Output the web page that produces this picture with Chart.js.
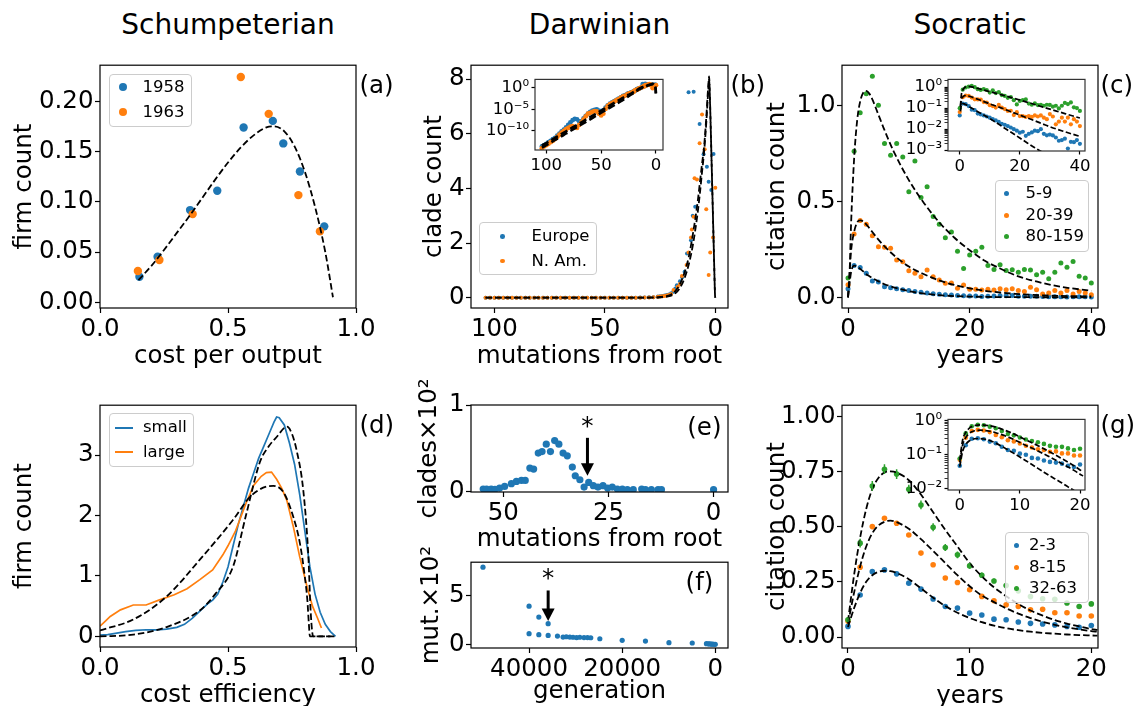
<!DOCTYPE html>
<html><head><meta charset="utf-8">
<script src="https://cdn.jsdelivr.net/npm/chart.js@4.4.1/dist/chart.umd.min.js"></script>
<style>
html,body{margin:0;padding:0;background:#fff;}
body{position:relative;width:1135px;height:706px;overflow:hidden;font-family:'DejaVu Sans',sans-serif;color:#000;}
.t{position:absolute;white-space:nowrap;line-height:1;color:#000;}
.leg{position:absolute;box-sizing:border-box;border:1px solid #cccccc;border-radius:4px;background:rgba(255,255,255,0.8);}
.dot{position:absolute;border-radius:50%;}
.ln{position:absolute;height:2px;}
</style></head><body>
<script>
// ---------------- DATA ----------------
const COLUMN_TITLES = ['Schumpeterian', 'Darwinian', 'Socratic'];
const PANEL_LABELS = ['(a)', '(b)', '(c)', '(d)', '(e)', '(f)', '(g)'];

// (a)
const A_LEGEND = ['1958', '1963'];
const A58_X = [0.154, 0.225, 0.352, 0.458, 0.561, 0.675, 0.716, 0.781, 0.876];
const A58_Y = [0.0254, 0.0453, 0.0917, 0.1109, 0.1739, 0.1804, 0.158, 0.130, 0.0755];
const A63_X = [0.148, 0.232, 0.362, 0.55, 0.659, 0.775, 0.859];
const A63_Y = [0.0311, 0.042, 0.0877, 0.2241, 0.1874, 0.1066, 0.0705];
const A_FIT_X = [0.15, 0.2, 0.25, 0.3, 0.35, 0.4, 0.45, 0.5, 0.55, 0.6, 0.65, 0.68, 0.72, 0.76, 0.8, 0.84, 0.88, 0.91];
const A_FIT_Y = [0.022, 0.036, 0.052, 0.069, 0.086, 0.104, 0.122, 0.139, 0.154, 0.166, 0.174, 0.175, 0.17, 0.155, 0.13, 0.095, 0.05, 0.005];
const A_XTICKS = [0, 0.5, 1.0], A_XLABELS = ['0.0', '0.5', '1.0'];
const A_YTICKS = [0, 0.05, 0.10, 0.15, 0.20], A_YLABELS = ['0.00', '0.05', '0.10', '0.15', '0.20'];

// (b)
const B_LEGEND = ['Europe', 'N. Am.'];
const B_EU_X = [104,102,100,98,96,94,92,90,88,86,84,82,80,78,76,74,72,70,68,66,64,62,60,58,56,54,52,50,48,46,44,42,40,38,36,34,32,30,28,26,
  25,24,23,22,21,20,19,18.1,17.4,16,15,13.9,12.8,12.1,11,10.2,9.8,9.1,7.1,5.3,3.8,3.0,1.8,0.8];
const B_EU_Y = [2.5e-14,5e-14,1e-13,2.5e-13,5e-13,1.3e-12,2.5e-12,8e-12,2.5e-11,8e-11,2e-10,6.3e-10,2.5e-9,1e-8,3.2e-8,6.3e-8,5e-8,1.6e-8,1.6e-8,8e-8,3.2e-7,1e-6,2.5e-6,5e-6,8e-6,1e-5,5e-6,3.2e-6,6.3e-6,2.5e-5,8e-5,2e-4,4e-4,8e-4,1.6e-3,3.2e-3,6.3e-3,1.3e-2,2e-2,4e-2,
  0.05,0.06,0.08,0.1,0.12,0.16,0.22,0.34,0.46,0.6,0.75,0.95,1.62,7.52,2.1,3.0,7.54,3.33,6.36,5.25,4.79,4.24,3.94,5.26];
const B_NA_X = [104,102,100,98,96,94,92,90,88,86,84,82,80,78,76,74,72,70,68,66,64,62,60,58,56,54,52,50,48,46,44,42,40,38,36,34,32,30,28,26,
  25,24,23,22,21,20,18.9,17,16,15.1,13,12.1,11,10.6,9.8,9.4,8.3,7.1,6.0,4.8,4.1,3.0,2.3,1.0,0];
const B_NA_Y = [1e-14,2.5e-14,5e-14,1e-13,2.5e-13,5e-13,1.3e-12,4e-12,1.3e-11,4e-11,1e-10,2.5e-10,5e-10,1e-9,1.3e-9,8e-10,5e-10,2.5e-9,1e-8,5e-8,2.5e-7,1e-6,1.6e-6,2.5e-6,4e-6,3.2e-6,1e-6,4e-7,1e-6,1.3e-5,6.3e-5,1.6e-4,3.2e-4,6.3e-4,1.3e-3,2.5e-3,5e-3,1e-2,1.6e-2,3.2e-2,
  0.04,0.05,0.06,0.08,0.1,0.14,0.28,0.4,0.5,0.79,1.2,1.65,2.2,2.5,2.96,4.37,4.33,5.65,6.71,5.43,3.24,0.83,1.65,2.2,4.02];
const B_FIT_X = [104,100,96,92,88,84,80,76,72,68,64,60,56,52,48,44,40,36,32,28,25,22,20,18,16,14,12,10,8,7,6,5,4,3.4,3.0,2.8,2.5,2,1.5,1,0.5,0.25,0.1,0];
const B_FIT1 = [4e-14,1.6e-13,6.3e-13,2.5e-12,1e-11,4e-11,1.6e-10,6.3e-10,2.5e-9,1e-8,4e-8,1.6e-7,6.3e-7,2.5e-6,1e-5,4e-5,1.6e-4,6.3e-4,2.5e-3,1e-2,0.025,0.06,0.12,0.25,0.5,0.9,1.5,2.4,3.5,4.2,4.9,5.6,6.7,7.5,7.95,8.1,7.5,6.0,4.4,2.8,1.2,0.4,0.05,0];
const B_FIT2 = [1.3e-14,5e-14,2e-13,8e-13,3.2e-12,1.3e-11,5e-11,2e-10,8e-10,3.2e-9,1.3e-8,5e-8,2e-7,8e-7,3.2e-6,1.3e-5,5e-5,2e-4,8e-4,3.2e-3,0.012,0.035,0.075,0.17,0.36,0.7,1.22,2.0,3.1,3.8,4.6,5.4,6.5,7.3,7.8,8.0,7.45,6.0,4.4,2.8,1.2,0.4,0.05,0];
const B_XTICKS = [100, 50, 0], B_XLABELS = ['100', '50', '0'];
const B_YTICKS = [0, 2, 4, 6, 8], B_YLABELS = ['0', '2', '4', '6', '8'];
const BI_YTICKS = [1, 1e-5, 1e-10], BI_YLABELS = ['10\u2070', '10\u207B\u2075', '10\u207B\u00B9\u2070'];

// (c)
const C_LEGEND = ['5-9', '20-39', '80-159'];
const C_YEARS = [0,1,2,3,4,5,6,7,8,9,10,11,12,13,14,15,16,17,18,19,20,21,22,23,24,25,26,27,28,29,30,31,32,33,34,35,36,37,38,39,40];
const C_BLUE = [0.045,0.165,0.155,0.125,0.085,0.08,0.055,0.05,0.045,0.04,0.035,0.03,0.026,0.022,0.018,0.016,0.014,0.012,0.01,0.0085,0.0068,0.0075,0.0048,0.006,0.007,0.0085,0.008,0.01,0.006,0.0051,0.0055,0.005,0.004,0.0028,0.003,0.0035,0.0012,0.0025,0.0024,0.003,0.002];
const C_ORANGE = [0.065,0.33,0.40,0.38,0.32,0.263,0.26,0.255,0.194,0.185,0.138,0.125,0.107,0.142,0.107,0.09,0.073,0.075,0.047,0.064,0.042,0.042,0.038,0.042,0.038,0.045,0.04,0.045,0.035,0.03,0.052,0.04,0.017,0.023,0.035,0.023,0.035,0.017,0.03,0.023,0.014];
const C_GREEN = [0.10,0.76,0.96,1.06,1.15,1.00,0.80,0.74,0.80,0.73,0.55,0.71,0.52,0.575,0.42,0.38,0.31,0.34,0.24,0.15,0.22,0.24,0.26,0.165,0.145,0.17,0.14,0.144,0.13,0.145,0.142,0.118,0.13,0.097,0.13,0.178,0.156,0.187,0.109,0.101,0.074];
const C_FIT_T = [0,0.25,0.5,1,1.5,2,2.5,3,3.5,4,5,6,7.5,10,12.5,15,17.5,20,22.5,25,27.5,30,35,40];
const C_FIT_GREEN = [0,0.12,0.38,0.72,0.92,1.02,1.065,1.074,1.06,1.03,0.95,0.87,0.76,0.61,0.49,0.39,0.31,0.245,0.19,0.15,0.115,0.09,0.055,0.034];
const C_FIT_ORANGE = [0,0.12,0.24,0.34,0.39,0.40,0.395,0.38,0.36,0.34,0.3,0.265,0.22,0.16,0.12,0.088,0.064,0.047,0.034,0.025,0.018,0.013,0.0075,0.0045];
const C_FIT_BLUE = [0,0.07,0.13,0.165,0.16,0.148,0.135,0.12,0.11,0.1,0.083,0.068,0.052,0.032,0.019,0.011,0.0065,0.0038,0.0022,0.0013,0.0008,0.00047,0.00017,0.00006];
const C_XTICKS = [0, 20, 40], C_XLABELS = ['0', '20', '40'];
const C_YTICKS = [0, 0.5, 1.0], C_YLABELS = ['0.0', '0.5', '1.0'];
const CI_MAJOR = [1e-3, 1e-2, 1e-1, 1], CI_LABELS = ['10\u207B\u00B3', '10\u207B\u00B2', '10\u207B\u00B9', '10\u2070'];

// (d)
const D_LEGEND = ['small', 'large'];
const D_SMALL_X = [0,0.03,0.06,0.1,0.14,0.18,0.22,0.26,0.3,0.33,0.36,0.39,0.42,0.44,0.46,0.48,0.5,0.52,0.54,0.56,0.58,0.6,0.62,0.64,0.66,0.68,0.69,0.7,0.72,0.74,0.76,0.78,0.8,0.82,0.84,0.86,0.88,0.9,0.92];
const D_SMALL_Y = [0.02,0.03,0.05,0.08,0.1,0.11,0.11,0.12,0.15,0.2,0.3,0.42,0.54,0.6,0.7,0.9,1.15,1.5,1.85,2.15,2.45,2.7,2.95,3.15,3.35,3.55,3.63,3.62,3.5,3.2,2.85,2.35,1.75,1.15,0.7,0.4,0.2,0.08,0.0];
const D_LARGE_X = [0,0.02,0.04,0.08,0.13,0.18,0.23,0.29,0.34,0.39,0.44,0.48,0.5,0.53,0.57,0.6,0.63,0.65,0.67,0.69,0.71,0.73,0.755,0.78,0.81,0.83,0.85,0.865];
const D_LARGE_Y = [0.17,0.25,0.33,0.44,0.52,0.52,0.6,0.69,0.79,0.94,1.1,1.35,1.5,1.75,2.2,2.5,2.65,2.71,2.72,2.6,2.45,2.25,1.82,1.32,0.8,0.5,0.3,0.14];
const D_FIT1_X = [0,0.13,0.26,0.39,0.45,0.52,0.57,0.625,0.66,0.69,0.73,0.75,0.768,0.794,0.814,0.823,0.833,0.92];
const D_FIT1_Y = [0.0,0.03,0.155,0.43,0.7,1.16,2.0,2.89,3.15,3.3,3.47,3.35,3.08,2.42,1.32,0.4,0.0,0.0];
const D_FIT2_X = [0,0.13,0.26,0.39,0.52,0.586,0.651,0.677,0.716,0.755,0.781,0.8,0.81,0.816,0.82,0.9];
const D_FIT2_Y = [0.1,0.28,0.66,1.27,1.93,2.31,2.48,2.49,2.39,1.98,1.54,0.99,0.6,0.2,0.0,0.0];
const D_XTICKS = [0, 0.5, 1.0], D_XLABELS = ['0.0', '0.5', '1.0'];
const D_YTICKS = [0, 1, 2, 3], D_YLABELS = ['0', '1', '2', '3'];

// (e)
const E_X = [54.8,54,52.9,52,50.9,49.7,48.1,46.9,45.7,44.8,43.7,42.8,41.7,40.8,39.8,38.8,37.8,36.8,35.8,34.8,33.6,32.9,31.8,30.8,29.7,28.6,27.5,26.3,25.2,24.1,22.9,21.7,20.5,19.1,17.1,16.2,14.8,13.2,12.4,0];
const E_Y = [0.028,0.028,0.028,0.025,0.039,0.058,0.089,0.115,0.127,0.127,0.27,0.258,0.443,0.461,0.547,0.461,0.588,0.547,0.443,0.412,0.281,0.181,0.135,0.05,0.104,0.066,0.05,0.066,0.039,0.05,0.028,0.028,0.02,0.02,0.028,0.02,0.02,0.02,0.02,0.02];
const E_MARK = {x: 30, from: 0.62, to: 0.18, star: 0.83};
const E_XTICKS = [50, 25, 0], E_XLABELS = ['50', '25', '0'];
const E_YTICKS = [0, 1], E_YLABELS = ['0', '1'];

// (f)
const F_X = [49900,40000,37900,35900,40000,37900,35900,33900,32700,32000,31250,30550,29800,29100,28200,27450,26750,24800,20000,15000,9950,4950,1900,1500,1200,900,600,300,0];
const F_Y = [7.86,3.91,2.80,2.13,1.11,1.01,0.94,0.87,0.77,0.8,0.77,0.75,0.72,0.75,0.72,0.72,0.7,0.6,0.44,0.36,0.2,0.17,0.1,0.08,0.07,0.06,0.05,0.04,0.03];
const F_MARK = {x: 35900, from: 5.5, to: 2.4, star: 7.36};
const F_XTICKS = [40000, 20000, 0], F_XLABELS = ['40000', '20000', '0'];
const F_YTICKS = [0, 5], F_YLABELS = ['0', '5'];

// (g)
const G_LEGEND = ['2-3', '8-15', '32-63'];
const G_YEARS = [0,1,2,3,4,5,6,7,8,9,10,11,12,13,14,15,16,17,18,19,20];
const G_BLUE = [0.048,0.19,0.296,0.304,0.286,0.244,0.217,0.172,0.138,0.131,0.108,0.1,0.081,0.078,0.068,0.062,0.059,0.055,0.048,0.044,0.052];
const G_ORANGE = [0.072,0.316,0.5,0.538,0.515,0.462,0.38,0.327,0.267,0.247,0.214,0.184,0.164,0.146,0.138,0.123,0.126,0.11,0.11,0.095,0.095];
const G_GREEN = [0.078,0.425,0.684,0.76,0.738,0.669,0.598,0.497,0.405,0.372,0.322,0.28,0.254,0.233,0.209,0.183,0.173,0.171,0.154,0.138,0.15];
const G_GREEN_ERR = [0.01,0.02,0.022,0.022,0.022,0.02,0.02,0.018,0.016,0.015,0.013,0.012,0.011,0.01,0.01,0.009,0.009,0.009,0.008,0.008,0.008];
const G_FIT_T = [0,0.5,1,1.5,2,2.5,3,3.5,4,5,6,7,8,9,10,11,12,13,14,15,16,17,18,19,20,20.5];
const G_FIT_GREEN = [0.07,0.28,0.45,0.58,0.67,0.72,0.745,0.75,0.745,0.71,0.645,0.565,0.485,0.41,0.335,0.275,0.225,0.185,0.15,0.12,0.097,0.077,0.061,0.048,0.036,0.032];
const G_FIT_ORANGE = [0.06,0.2,0.32,0.41,0.47,0.505,0.522,0.527,0.52,0.49,0.443,0.39,0.335,0.28,0.23,0.188,0.158,0.13,0.106,0.086,0.069,0.055,0.044,0.035,0.027,0.024];
const G_FIT_BLUE = [0.045,0.13,0.2,0.25,0.28,0.295,0.3,0.298,0.29,0.262,0.22,0.178,0.14,0.11,0.086,0.067,0.052,0.04,0.031,0.024,0.019,0.015,0.0115,0.009,0.007,0.006];
const G_XTICKS = [0, 10, 20], G_XLABELS = ['0', '10', '20'];
const G_YTICKS = [0, 0.25, 0.5, 0.75, 1.0], G_YLABELS = ['0.00', '0.25', '0.50', '0.75', '1.00'];
const GI_MAJOR = [1e-2, 1e-1, 1], GI_LABELS = ['10\u207B\u00B2', '10\u207B\u00B9', '10\u2070'];

// ---------------- STYLE / HELPERS ----------------
const BLUE = '#1f77b4', ORANGE = '#ff7f0e', GREEN = '#2ca02c';
const FONT = "'DejaVu Sans'";
const FS = 24.5, IFS = 16.5;
Chart.defaults.font.family = FONT;
Chart.defaults.color = '#000';

const pts = (xs, ys) => xs.map((x, i) => ({x: x, y: ys[i]}));
const dots = (xs, ys, color, r) => ({data: pts(xs, ys), showLine: false, pointRadius: r, pointHoverRadius: r,
  pointBackgroundColor: color, pointBorderColor: color, pointBorderWidth: 0, clip: 0});
const dashed = (xs, ys, w, dash) => ({data: pts(xs, ys), showLine: true, borderColor: '#000', borderWidth: w,
  borderDash: dash, pointRadius: 0, pointHoverRadius: 0, cubicInterpolationMode: 'monotone', clip: 0, fill: false});
const solid = (xs, ys, color, w) => ({data: pts(xs, ys), showLine: true, borderColor: color, borderWidth: w,
  pointRadius: 0, pointHoverRadius: 0, tension: 0, clip: 0, fill: false});
const lab = (ticks, labels) => v => { const i = ticks.indexOf(v); return i < 0 ? '' : labels[i]; };

function scale(o) {
  return {
    type: o.type || 'linear', position: o.pos, min: o.min, max: o.max, reverse: !!o.reverse,
    afterBuildTicks: s => { s.ticks = o.ticks.map(v => ({value: v})); },
    afterFit: s => { if (o.pos === 'left') s.width = o.size; else s.height = o.size; },
    ticks: {autoSkip: false, maxRotation: 0, minRotation: 0, padding: o.pad, color: '#000',
      font: {family: FONT, size: o.fs}, callback: v => o.fmt(v)},
    grid: {display: true, drawOnChartArea: false, drawTicks: true, tickLength: o.tl, tickColor: '#000', tickWidth: o.tw || 1.2},
    border: {display: false},
    title: o.title ? {display: true, text: o.title, padding: 0, color: '#000', font: {family: FONT, size: o.fs}} : {display: false}
  };
}
function mainX(min, max, ticks, labels, title, H, reverse) {
  return scale({pos: 'bottom', min, max, reverse, ticks, fmt: lab(ticks, labels), title, size: H, fs: FS, tl: 5, pad: 1.5});
}
function mainY(min, max, ticks, labels, title, W) {
  return scale({pos: 'left', min, max, ticks, fmt: lab(ticks, labels), title, size: W, fs: FS, tl: 5, pad: 1.5});
}
function logTicks(majors, min, max) {
  const out = [];
  majors.forEach(m => { out.push(m); for (let k = 2; k <= 9; k++) { const v = k * m; if (v >= min && v <= max) out.push(v); } });
  return out;
}

function framePlugin(bg, color) {
  return {
    id: 'frame',
    beforeDatasetsDraw(chart) {
      if (!bg) return;
      const {ctx, chartArea: c} = chart;
      ctx.save(); ctx.fillStyle = bg; ctx.fillRect(c.left, c.top, c.right - c.left, c.bottom - c.top); ctx.restore();
    },
    afterDatasetsDraw(chart) {
      const {ctx, chartArea: c} = chart;
      ctx.save(); ctx.strokeStyle = color || '#000'; ctx.lineWidth = 1.2;
      ctx.strokeRect(c.left, c.top, c.right - c.left, c.bottom - c.top); ctx.restore();
    }
  };
}
function arrowPlugin(m) {
  return {
    id: 'arrow',
    afterDatasetsDraw(chart) {
      const {ctx, scales: {x, y}} = chart;
      const px = x.getPixelForValue(m.x), y0 = y.getPixelForValue(m.from), y1 = y.getPixelForValue(m.to), ys = y.getPixelForValue(m.star);
      ctx.save(); ctx.fillStyle = '#000'; ctx.strokeStyle = '#000'; ctx.lineWidth = 3;
      ctx.beginPath(); ctx.moveTo(px, y0); ctx.lineTo(px, y1 - 10); ctx.stroke();
      ctx.beginPath(); ctx.moveTo(px - 6.5, y1 - 12.5); ctx.lineTo(px + 6.5, y1 - 12.5); ctx.lineTo(px, y1); ctx.closePath(); ctx.fill();
      ctx.font = FS + 'px ' + FONT; ctx.textAlign = 'center'; ctx.textBaseline = 'alphabetic';
      ctx.fillText('*', px, ys + 0.585 * FS);
      ctx.restore();
    }
  };
}
function errPlugin(xs, ys, errs, color) {
  return {
    id: 'errbars',
    afterDatasetsDraw(chart) {
      const {ctx, scales: {x, y}} = chart;
      ctx.save(); ctx.strokeStyle = color; ctx.lineWidth = 1.5; ctx.beginPath();
      xs.forEach((v, i) => { const px = x.getPixelForValue(v); ctx.moveTo(px, y.getPixelForValue(ys[i] - errs[i])); ctx.lineTo(px, y.getPixelForValue(ys[i] + errs[i])); });
      ctx.stroke(); ctx.restore();
    }
  };
}

function makeChart(box, W, H, pad, datasets, xs, ys, plugins) {
  const [pl, pt, pr, pb] = pad;
  const left = box.l - W - pl, top = box.t - pt;
  const w = box.r - left + pr, h = box.b + H + pb - top;
  const cv = document.createElement('canvas');
  cv.width = w; cv.height = h;
  cv.style.cssText = 'position:absolute;left:' + left + 'px;top:' + top + 'px;width:' + w + 'px;height:' + h + 'px';
  document.body.appendChild(cv);
  return new Chart(cv, {
    type: 'scatter', data: {datasets},
    options: {
      responsive: false, maintainAspectRatio: false, animation: false, devicePixelRatio: 1, events: [],
      layout: {padding: {left: pl, top: pt, right: pr, bottom: pb}},
      plugins: {legend: {display: false}, tooltip: {enabled: false}, title: {display: false}},
      scales: {x: xs, y: ys}
    },
    plugins: plugins
  });
}

function text(str, x, baseline, size, center) {
  const d = document.createElement('div'); d.className = 't'; d.textContent = str;
  d.style.fontSize = size + 'px'; d.style.top = (baseline - 0.846 * size) + 'px';
  if (center) { d.style.left = (x - 300) + 'px'; d.style.width = '600px'; d.style.textAlign = 'center'; }
  else d.style.left = x + 'px';
  document.body.appendChild(d);
}
function legend(box, rows) {
  const d = document.createElement('div'); d.className = 'leg';
  d.style.left = box.l + 'px'; d.style.top = box.t + 'px'; d.style.width = box.w + 'px'; d.style.height = box.h + 'px';
  document.body.appendChild(d);
  rows.forEach(r => {
    const m = document.createElement('div');
    if (r.kind === 'line') {
      m.className = 'ln'; m.style.left = r.mx + 'px'; m.style.width = r.len + 'px'; m.style.top = (r.y - 1) + 'px'; m.style.background = r.color;
    } else {
      m.className = 'dot'; m.style.left = (r.mx - r.r) + 'px'; m.style.top = (r.y - r.r) + 'px';
      m.style.width = (2 * r.r) + 'px'; m.style.height = (2 * r.r) + 'px'; m.style.background = r.color;
    }
    document.body.appendChild(m);
    text(r.label, r.tx, r.y + 5.5, 16.5);
  });
}

const MPAD = [4, 16, 24, 4];
const EPAD = [4, 40, 24, 4];
const IPAD = [4, 10, 16, 4];
const IW = 56, IH = 30;

// ---------------- (a) ----------------
makeChart({l: 100, t: 65, r: 356, b: 308}, 90, 63, MPAD,
  [dashed(A_FIT_X, A_FIT_Y, 1.8, [6.5, 3]), dots(A63_X, A63_Y, ORANGE, 4.2), dots(A58_X, A58_Y, BLUE, 4.2)],
  mainX(0, 1, A_XTICKS, A_XLABELS, 'cost per output', 63),
  mainY(-0.0057, 0.2358, A_YTICKS, A_YLABELS, 'firm count', 90),
  [framePlugin()]);

// ---------------- (b) ----------------
makeChart({l: 471, t: 65, r: 728, b: 308}, 51, 63, MPAD,
  [dashed(B_FIT_X, B_FIT1, 1.8, [6.5, 3]), dashed(B_FIT_X, B_FIT2, 1.8, [6.5, 3]),
   dots(B_NA_X, B_NA_Y, ORANGE, 2), dots(B_EU_X, B_EU_Y, BLUE, 2)],
  mainX(-5.75, 110.6, B_XTICKS, B_XLABELS, 'mutations from root', 63, true),
  mainY(-0.377, 8.51, B_YTICKS, B_YLABELS, 'clade count', 51),
  [framePlugin()]);

// ---------------- (c) ----------------
makeChart({l: 842, t: 65, r: 1098, b: 308}, 79, 63, MPAD,
  [dashed(C_FIT_T, C_FIT_BLUE, 1.8, [6.5, 3]), dashed(C_FIT_T, C_FIT_ORANGE, 1.8, [6.5, 3]), dashed(C_FIT_T, C_FIT_GREEN, 1.8, [6.5, 3]),
   dots(C_YEARS, C_GREEN, GREEN, 2.5), dots(C_YEARS, C_ORANGE, ORANGE, 2.5), dots(C_YEARS, C_BLUE, BLUE, 2.5)],
  mainX(-0.99, 41.1, C_XTICKS, C_XLABELS, 'years', 63),
  mainY(-0.0556, 1.208, C_YTICKS, C_YLABELS, 'citation count', 79),
  [framePlugin()]);

// ---------------- (d) ----------------
makeChart({l: 100, t: 405, r: 356, b: 647}, 90, 63, MPAD,
  [dashed(D_FIT1_X, D_FIT1_Y, 1.8, [6.5, 3]), dashed(D_FIT2_X, D_FIT2_Y, 1.8, [6.5, 3]),
   solid(D_LARGE_X, D_LARGE_Y, ORANGE, 1.7), solid(D_SMALL_X, D_SMALL_Y, BLUE, 1.7)],
  mainX(0, 1, D_XTICKS, D_XLABELS, 'cost efficiency', 63),
  mainY(-0.175, 3.826, D_YTICKS, D_YLABELS, 'firm count', 90),
  [framePlugin()]);

// ---------------- (e) ----------------
makeChart({l: 471, t: 405, r: 728, b: 492}, 56, 62, EPAD,
  [dots(E_X, E_Y, BLUE, 3.6)],
  mainX(-3.43, 57.7, E_XTICKS, E_XLABELS, 'mutations from root', 62, true),
  mainY(-0.007, 1, E_YTICKS, E_YLABELS, 'clades\u00D710\u00B2', 56),
  [framePlugin(), arrowPlugin(E_MARK)]);

// ---------------- (f) ----------------
makeChart({l: 471, t: 562, r: 728, b: 648}, 54, 58, MPAD,
  [dots(F_X, F_Y, BLUE, 2.6)],
  mainX(-2731, 52473, F_XTICKS, F_XLABELS, 'generation', 58, true),
  mainY(-0.34, 8.37, F_YTICKS, F_YLABELS, 'mut.\u00D710\u00B2', 54),
  [framePlugin(), arrowPlugin(F_MARK)]);

// ---------------- (g) ----------------
makeChart({l: 842, t: 405, r: 1098, b: 648}, 79, 63, MPAD,
  [dashed(G_FIT_T, G_FIT_BLUE, 1.8, [6.5, 3]), dashed(G_FIT_T, G_FIT_ORANGE, 1.8, [6.5, 3]), dashed(G_FIT_T, G_FIT_GREEN, 1.8, [6.5, 3]),
   dots(G_YEARS, G_GREEN, GREEN, 2.8), dots(G_YEARS, G_ORANGE, ORANGE, 2.8), dots(G_YEARS, G_BLUE, BLUE, 2.8)],
  mainX(-0.49, 20.55, G_XTICKS, G_XLABELS, 'years', 63),
  mainY(-0.0497, 1.0497, G_YTICKS, G_YLABELS, 'citation count', 79),
  [framePlugin(), errPlugin(G_YEARS, G_GREEN, G_GREEN_ERR, GREEN)]);

// ---------------- insets ----------------
const insetX = (min, max, ticks, labels, reverse) =>
  scale({pos: 'bottom', min, max, reverse, ticks, fmt: lab(ticks, labels), size: IH, fs: IFS, tl: 3.5, pad: 2});
const insetLogY = (min, max, majors, labels, minor) => {
  const ticks = minor ? logTicks(majors, min, max) : majors;
  return scale({pos: 'left', type: 'logarithmic', min, max, ticks, fmt: lab(majors, labels), size: IW, fs: IFS, tl: 3.5, pad: 2.5,
    tw: c => (c.tick && majors.indexOf(c.tick.value) >= 0) ? 1.2 : 0.8});
};

makeChart({l: 535, t: 77, r: 663, b: 150}, IW, IH, IPAD,
  [dashed(B_FIT_X, B_FIT1, 2.6, [7.5, 3.5]), dashed(B_FIT_X, B_FIT2, 2.6, [7.5, 3.5]),
   dots(B_NA_X, B_NA_Y, ORANGE, 2.4), dots(B_EU_X, B_EU_Y, BLUE, 2.4)],
  insetX(-6.4, 110.3, B_XTICKS, B_XLABELS, true),
  insetLogY(3.8e-15, 89, BI_YTICKS, BI_YLABELS, false),
  [framePlugin('#fff', '#333')]);

makeChart({l: 948, t: 77, r: 1085, b: 151}, IW, IH, IPAD,
  [dashed(C_FIT_T, C_FIT_BLUE, 1.7, [5.5, 2.5]), dashed(C_FIT_T, C_FIT_ORANGE, 1.7, [5.5, 2.5]), dashed(C_FIT_T, C_FIT_GREEN, 1.7, [5.5, 2.5]),
   dots(C_YEARS, C_GREEN, GREEN, 2.1), dots(C_YEARS, C_ORANGE, ORANGE, 2.1), dots(C_YEARS, C_BLUE, BLUE, 2.1)],
  insetX(-3.9, 41.7, C_XTICKS, C_XLABELS, false),
  insetLogY(9.1e-4, 2.34, CI_MAJOR, CI_LABELS, true),
  [framePlugin('#fff', '#333')]);

makeChart({l: 948, t: 417, r: 1085, b: 490}, IW, IH, IPAD,
  [dashed(G_FIT_T, G_FIT_BLUE, 1.7, [5.5, 2.5]), dashed(G_FIT_T, G_FIT_ORANGE, 1.7, [5.5, 2.5]), dashed(G_FIT_T, G_FIT_GREEN, 1.7, [5.5, 2.5]),
   dots(G_YEARS, G_GREEN, GREEN, 2.3), dots(G_YEARS, G_ORANGE, ORANGE, 2.3), dots(G_YEARS, G_BLUE, BLUE, 2.3)],
  insetX(-1.95, 20.83, G_XTICKS, G_XLABELS, false),
  insetLogY(0.0093, 1.09, GI_MAJOR, GI_LABELS, true),
  [framePlugin('#fff', '#333')]);

// ---------------- text: titles, panel labels ----------------
text(COLUMN_TITLES[0], 228, 35, 28, true);
text(COLUMN_TITLES[1], 599.5, 35, 28, true);
text(COLUMN_TITLES[2], 970, 35, 28, true);
text(PANEL_LABELS[0], 359.5, 93.6, FS);
text(PANEL_LABELS[1], 730.5, 93.6, FS);
text(PANEL_LABELS[2], 1100.5, 93.6, FS);
text(PANEL_LABELS[3], 359.5, 433.6, FS);
text(PANEL_LABELS[4], 687.3, 435.3, FS);
text(PANEL_LABELS[5], 685.6, 590.3, FS);
text(PANEL_LABELS[6], 1100.5, 433.6, FS);

// ---------------- legends ----------------
legend({l: 109, t: 74, w: 83, h: 53}, [
  {y: 87.3, label: A_LEGEND[0], color: BLUE, mx: 123, r: 4.2, tx: 142.5},
  {y: 112.3, label: A_LEGEND[1], color: ORANGE, mx: 123, r: 4.2, tx: 142.5}]);
legend({l: 479, t: 222, w: 118, h: 53}, [
  {y: 236.7, label: B_LEGEND[0], color: BLUE, mx: 502.7, r: 2.3, tx: 531.5},
  {y: 261, label: B_LEGEND[1], color: ORANGE, mx: 502.7, r: 2.3, tx: 531.5}]);
legend({l: 995, t: 180, w: 94, h: 72}, [
  {y: 193.8, label: C_LEGEND[0], color: BLUE, mx: 1006.7, r: 2.5, tx: 1025.5},
  {y: 215.3, label: C_LEGEND[1], color: ORANGE, mx: 1006.7, r: 2.5, tx: 1025.5},
  {y: 236.8, label: C_LEGEND[2], color: GREEN, mx: 1006.7, r: 2.5, tx: 1025.5}]);
legend({l: 109, t: 413, w: 85, h: 54}, [
  {y: 427.5, label: D_LEGEND[0], color: BLUE, kind: 'line', mx: 115, len: 18, tx: 143},
  {y: 452.3, label: D_LEGEND[1], color: ORANGE, kind: 'line', mx: 115, len: 18, tx: 143}]);
legend({l: 1005, t: 532, w: 84, h: 71}, [
  {y: 545.7, label: G_LEGEND[0], color: BLUE, mx: 1016.7, r: 2.5, tx: 1029},
  {y: 567, label: G_LEGEND[1], color: ORANGE, mx: 1016.7, r: 2.5, tx: 1029},
  {y: 588.5, label: G_LEGEND[2], color: GREEN, mx: 1016.7, r: 2.5, tx: 1029}]);
</script>
</body></html>
